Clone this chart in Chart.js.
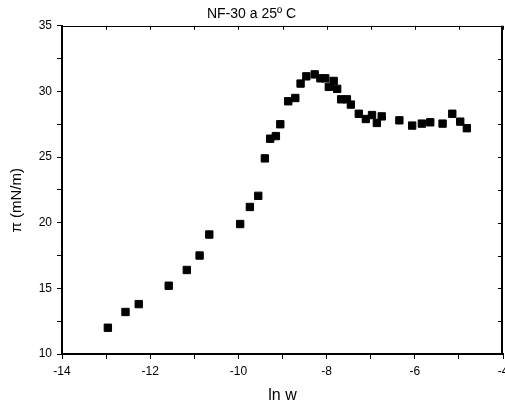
<!DOCTYPE html>
<html>
<head>
<meta charset="utf-8">
<script src="https://cdn.jsdelivr.net/npm/chart.js"></script>
<style>
    html, body { margin: 0; padding: 0; background: #fff; overflow: hidden; }
    #wrap { width: 505px; height: 406px; overflow: hidden; }
</style>
</head>
<body>
<div id="wrap"><canvas id="myChart" width="520" height="406"></canvas></div>
<script>
const chart = document.getElementById('myChart');

// ln w (x) and surface pressure pi in mN/m (y)
const lnW = [-12.96, -12.56, -12.26, -11.58, -11.17, -10.88, -10.66, -9.96, -9.74, -9.55,
    -9.40, -9.28, -9.15, -9.05, -8.87, -8.71, -8.59, -8.46, -8.27, -8.14,
    -8.03, -7.95, -7.84, -7.76, -7.67, -7.54, -7.45, -7.27, -7.11, -6.97,
    -6.86, -6.75, -6.35, -6.06, -5.84, -5.65, -5.37, -5.15, -4.97, -4.82];
const piValues = [12.0, 13.2, 13.8, 15.2, 16.4, 17.5, 19.1, 19.9, 21.2, 22.05,
    24.9, 26.4, 26.6, 27.5, 29.25, 29.5, 30.6, 31.15, 31.3, 31.0,
    31.0, 30.35, 30.8, 30.2, 29.4, 29.4, 29.0, 28.3, 27.9, 28.2,
    27.6, 28.1, 27.8, 27.4, 27.55, 27.65, 27.55, 28.3, 27.7, 27.2];

const xRange = [-14, -4];
const yRange = [10, 35];
const xLabelStep = 2;
const yLabelStep = 5;

const font = "'Liberation Sans', Arial, sans-serif";

// top and right frame lines with inward ticks
const mirrorAxes = {
    id: 'mirrorAxes',
    afterDraw(c) {
        const ctx = c.ctx;
        const a = c.chartArea;
        const x = c.scales.x, y = c.scales.y;
        ctx.save();
        ctx.strokeStyle = '#000';
        ctx.lineWidth = 1;
        ctx.beginPath();
        ctx.moveTo(a.left, Math.round(a.top) + 0.5);
        ctx.lineTo(a.right, Math.round(a.top) + 0.5);
        x.ticks.forEach(t => {
            const px = Math.round(x.getPixelForValue(t.value)) + 0.5;
            ctx.moveTo(px, a.top);
            ctx.lineTo(px, a.top + 4);
        });
        y.ticks.forEach(t => {
            const py = Math.round(y.getPixelForValue(t.value)) + 0.5;
            ctx.moveTo(a.right, py);
            ctx.lineTo(a.right - 5, py);
        });
        ctx.stroke();
        ctx.lineWidth = 2;
        ctx.beginPath();
        ctx.moveTo(Math.round(a.right) - 1, a.top);
        ctx.lineTo(Math.round(a.right) - 1, a.bottom);
        ctx.stroke();
        ctx.restore();
    }
};

new Chart(chart, {
    type: 'scatter',
    data: {
        datasets: [{
            data: lnW.map((v, i) => ({ x: v, y: piValues[i] })),
            pointStyle: 'rect',
            pointRadius: 5.2,
            pointBorderWidth: 1,
            backgroundColor: '#000',
            borderColor: '#000',
            showLine: false,
        }]
    },
    options: {
        responsive: false,
        animation: false,
        layout: {
            padding: { left: 0, right: 17, top: 0, bottom: 0 }
        },
        plugins: {
            legend: { display: false },
            tooltip: { enabled: false },
            title: {
                display: true,
                text: 'NF-30 a 25º C',
                color: '#000',
                font: { family: font, size: 14, weight: 'normal' },
                padding: { top: 6, bottom: 3 },
            },
        },
        scales: {
            x: {
                type: 'linear',
                min: xRange[0],
                max: xRange[1],
                afterFit(scale) { scale.height = 52; },
                ticks: {
                    stepSize: 1,
                    color: '#000',
                    padding: 5,
                    maxRotation: 0,
                    font: { family: font, size: 12 },
                    callback: v => (v % xLabelStep === 0 ? v : ''),
                },
                grid: {
                    drawOnChartArea: false,
                    drawTicks: true,
                    tickLength: 5,
                    tickColor: '#000',
                },
                border: { display: true, color: '#000', width: 2 },
                title: {
                    display: true,
                    text: 'ln w',
                    color: '#000',
                    font: { family: font, size: 16 },
                    padding: { top: 0, bottom: 1 },
                },
            },
            y: {
                type: 'linear',
                min: yRange[0],
                max: yRange[1],
                afterFit(scale) { scale.width = 62; },
                ticks: {
                    stepSize: 2.5,
                    color: '#000',
                    padding: 5,
                    font: { family: font, size: 12 },
                    callback: v => (v % yLabelStep === 0 ? v : ''),
                },
                grid: {
                    drawOnChartArea: false,
                    drawTicks: true,
                    tickLength: 5,
                    tickColor: '#000',
                },
                border: { display: true, color: '#000', width: 2 },
                title: {
                    display: true,
                    text: 'π (mN/m)     ',
                    color: '#000',
                    font: { family: font, size: 15 },
                    padding: { top: 8, bottom: 0 },
                },
            },
        },
    },
    plugins: [mirrorAxes],
});
</script>
</body>
</html>
